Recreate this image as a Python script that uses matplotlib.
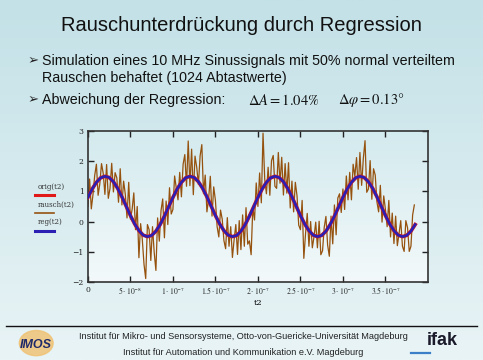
import numpy as np
import matplotlib
matplotlib.use("Agg")
import matplotlib.pyplot as plt
from matplotlib.patches import Circle
from matplotlib.colors import LinearSegmentedColormap

# --- data ----------------------------------------------------------------
# noisy signal "rausch(t2)", one value every 2 ns
dt_noise = 2e-9
rausch = [
    0.50, 1.41, 0.42, 0.90, 1.53, 1.90, 0.87, 1.25, 1.92, 1.60,
    0.90, 1.89, 0.77, 1.10, 1.93, 0.98, 1.62, 1.45, 0.64, 1.75,
    0.55, 1.34, 0.90, 0.12, 1.30, 0.08, 0.40, 0.95, -0.27, 0.50,
    -1.20, -0.07, -0.60, -1.42, -1.89, -0.10, -0.27, -1.29, -0.17, -1.03,
    -1.62, 0.12, -0.65, 0.36, 0.75, -0.54, 0.68, -0.10, 1.12, 0.25,
    0.40, 1.51, 1.10, 0.72, 1.63, 0.82, 1.90, 2.22, 1.17, 2.67,
    1.19, 2.40, 0.89, 2.17, 1.80, 1.23, 2.18, 2.55, 0.92, 1.54,
    0.32, 0.75, 1.50, 0.18, 1.15, 0.70, -0.17, -0.51, 0.38, 0.08,
    -0.63, -0.90, 0.13, -0.82, -0.17, -1.19, -0.60, -0.10, -1.09, 0.03,
    -0.93, 0.22, -0.82, 0.46, -0.75, -0.64, -1.10, 0.48, 0.05, 1.28,
    0.50, 1.61, 0.62, 2.93, 1.40, 0.92, 1.80, 0.87, 2.02, 2.19,
    1.17, 1.10, 2.29, 1.27, 2.13, 0.88, 1.92, 0.94, 1.95, 0.45,
    1.34, 0.32, 1.30, 0.85, -0.12, -0.27, 0.70, -1.22, -0.41, 0.27,
    -0.82, 0.00, -0.87, -0.50, -0.02, -0.87, 0.01, -1.10, -0.97, -0.19,
    0.17, -0.78, -1.15, 0.18, -0.74, 0.55, -0.44, 0.78, 0.92, 0.30,
    1.08, 0.40, 1.51, 0.72, 1.63, 0.72, 1.90, 1.50, 2.12, 1.07,
    2.29, 1.20, 2.09, 2.68, 0.97, 1.08, 2.02, 0.74, 1.75, 1.54,
    0.65, 0.32, 1.20, -0.02, 0.85, 0.40, -0.17, 0.70, -0.51, 0.28,
    -0.73, 0.18, -0.80, -0.40, 0.03, -0.82, -0.99, 0.03, -0.20, -0.99,
    -0.82, 0.22, 0.55,
]

# original signal and regression result, one value every 5 ns
dt_fit = 5e-9
reg = [
    0.80, 1.08, 1.30, 1.45, 1.50, 1.46, 1.32, 1.10, 0.82, 0.51,
    0.20, -0.08, -0.30, -0.45, -0.50, -0.46, -0.32, -0.10, 0.18, 0.49,
    0.80, 1.08, 1.30, 1.45, 1.50, 1.46, 1.32, 1.10, 0.82, 0.51,
    0.20, -0.08, -0.30, -0.45, -0.50, -0.46, -0.32, -0.10, 0.18, 0.49,
    0.80, 1.08, 1.30, 1.45, 1.50, 1.46, 1.32, 1.10, 0.82, 0.51,
    0.20, -0.08, -0.30, -0.45, -0.50, -0.46, -0.32, -0.10, 0.18, 0.49,
    0.80, 1.08, 1.30, 1.45, 1.50, 1.46, 1.32, 1.10, 0.82, 0.51,
    0.20, -0.08, -0.30, -0.45, -0.50, -0.46, -0.32, -0.10,
]
orig = reg  # identical within reading precision

x_ticks = [0, 5e-8, 1e-7, 1.5e-7, 2e-7, 2.5e-7, 3e-7, 3.5e-7]
x_labels = ["0", r"$5\cdot10^{-8}$", r"$1\cdot10^{-7}$", r"$1.5\cdot10^{-7}$",
            r"$2\cdot10^{-7}$", r"$2.5\cdot10^{-7}$", r"$3\cdot10^{-7}$",
            r"$3.5\cdot10^{-7}$"]
y_ticks = [-2, -1, 0, 1, 2, 3]
y_labels = ["\u22122", "\u22121", "0", "1", "2", "3"]

t_noise = np.arange(len(rausch)) * dt_noise
t_fit = np.arange(len(reg)) * dt_fit

plt.rcParams["font.family"] = ["Liberation Sans", "DejaVu Sans"]
plt.rcParams["mathtext.fontset"] = "stix"

fig = plt.figure(figsize=(4.83, 3.60), dpi=100)

# slide background gradient
bg = fig.add_axes([0, 0, 1, 1], zorder=-10)
grad = np.linspace(0, 1, 256).reshape(-1, 1)
slide_cmap = LinearSegmentedColormap.from_list("slide", ["#c3e1e7", "#e9f4f6"])
bg.imshow(grad, aspect="auto", cmap=slide_cmap, extent=[0, 1, 0, 1], origin="upper")
bg.set_xlim(0, 1)
bg.set_ylim(0, 1)
bg.axis("off")

# title and bullets
fig.text(0.5, 0.930, "Rauschunterdrückung durch Regression", ha="center", va="center",
         fontsize=14.5, color="#111111")
arrow_kw = dict(fontsize=9.5, color="#222222", family=["DejaVu Sans"], va="center")
fig.text(0.058, 0.830, "\u27a2", **arrow_kw)
fig.text(0.058, 0.724, "\u27a2", **arrow_kw)
body_kw = dict(fontsize=10.3, va="center", color="#111111")
fig.text(0.087, 0.830, "Simulation eines 10 MHz Sinussignals mit 50% normal verteiltem", **body_kw)
fig.text(0.087, 0.782, "Rauschen behaftet (1024 Abtastwerte)", **body_kw)
fig.text(0.087, 0.722, "Abweichung der Regression:", **body_kw)
fig.text(0.513, 0.722, r"$\Delta A = 1.04\%$", fontsize=10.5, va="center", color="#111111")
fig.text(0.700, 0.722, r"$\Delta\varphi = 0.13°$", fontsize=10.5, va="center", color="#111111")

# chart
ax = fig.add_axes([0.182, 0.217, 0.704, 0.419])
pgrad = np.linspace(0, 1, 256).reshape(-1, 1)
plot_cmap = LinearSegmentedColormap.from_list("plot", ["#d3eaee", "#f3f9fa"])
ax.imshow(pgrad, aspect="auto", cmap=plot_cmap, extent=[0, 4e-7, -2, 3],
          origin="upper", zorder=0)
ax.plot(t_noise, rausch, color="#95520f", lw=0.9, zorder=2)
ax.plot(t_fit, orig, color="#e01818", lw=2.6, zorder=3)
ax.plot(t_fit, reg, color="#2b1fb4", lw=1.9, zorder=4)
ax.set_xlim(0, 4e-7)
ax.set_ylim(-2, 3)
ax.set_xticks(x_ticks)
ax.set_xticklabels(x_labels)
ax.set_yticks(y_ticks)
ax.set_yticklabels(y_labels)
ax.tick_params(direction="in", length=4, width=1, top=True, right=True,
               labelsize=5.5, colors="#222222", pad=3)
for lab in ax.get_xticklabels() + ax.get_yticklabels():
    lab.set_family("DejaVu Serif")
for sp in ax.spines.values():
    sp.set_linewidth(1.2)
    sp.set_color("#333333")
ax.set_xlabel("t2", fontsize=6, family="DejaVu Serif", labelpad=1)

# Mathcad-style legend on the left
leg_kw = dict(fontsize=5, family="DejaVu Serif", color="#333333", va="center")
fig.text(0.078, 0.481, "orig(t2)", **leg_kw)
fig.text(0.078, 0.431, "rausch(t2)", **leg_kw)
fig.text(0.078, 0.383, "reg(t2)", **leg_kw)
bg.plot([0.072, 0.112], [0.459, 0.459], color="#e01818", lw=2.2)
bg.plot([0.072, 0.112], [0.409, 0.409], color="#95520f", lw=1.2)
bg.plot([0.072, 0.112], [0.359, 0.359], color="#2b1fb4", lw=2.2)

# footer
bg.plot([0.012, 0.988], [0.094, 0.094], color="#111111", lw=1)
fig.text(0.503, 0.064, "Institut für Mikro- und Sensorsysteme, Otto-von-Guericke-Universität Magdeburg",
         ha="center", va="center", fontsize=6.6, color="#222222")
fig.text(0.503, 0.022, "Institut für Automation und Kommunikation e.V. Magdeburg",
         ha="center", va="center", fontsize=6.6, color="#222222")
bg.add_patch(Circle((0.075, 0.047), 0.035, transform=bg.transAxes,
                    color="#f0c070", alpha=0.8, zorder=1))
fig.text(0.075, 0.042, "IMOS", ha="center", va="center", fontsize=9,
         fontweight="bold", style="italic", color="#1f2a6a", zorder=3)
fig.text(0.915, 0.055, "ifak", ha="center", va="center", fontsize=13,
         fontweight="bold", color="#1a1a2a")
bg.plot([0.850, 0.890], [0.020, 0.020], color="#3a7fc8", lw=1.6)

fig.savefig("out.png", dpi=100)
